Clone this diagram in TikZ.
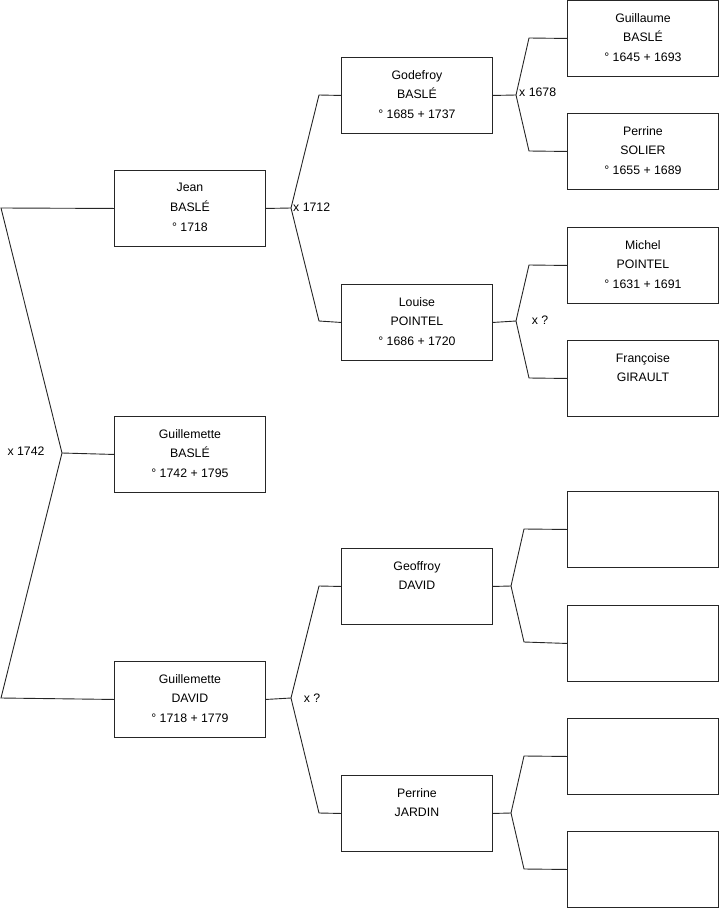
\documentclass[tikz,border=0pt]{standalone}
\usepackage{fontspec}
\setmainfont{Liberation Sans}
\begin{document}
\begin{tikzpicture}[x=1pt,y=-1pt,
  box/.style={draw=black!85, line width=0.9pt, minimum width=151pt, minimum height=76pt, inner sep=0pt, anchor=north west},
  txt/.style={anchor=north, align=center, font=\fontsize{12.3}{19.8}\selectfont, inner sep=0pt},
  ln/.style={draw=black!85, line width=0.9pt},
  lab/.style={font=\fontsize{12.3}{14}\selectfont, inner sep=0pt}]
\useasboundingbox (0,0) rectangle (719,908);
% generation 1
\node[box] (jean) at (114,170) {};
\node[box] (gbasle) at (114,416) {};
\node[box] (gdavid) at (114,661) {};
% generation 2
\node[box] (godefroy) at (341,57) {};
\node[box] (louise) at (341,284) {};
\node[box] (geoffroy) at (341,548) {};
\node[box] (pjardin) at (341,775) {};
% generation 3
\node[box] (guillaume) at (567,0) {};
\node[box] (psolier) at (567,113) {};
\node[box] (michel) at (567,227) {};
\node[box] (francoise) at (567,340) {};
\node[box] (e1) at (567,491) {};
\node[box] (e2) at (567,605) {};
\node[box] (e3) at (567,718) {};
\node[box] (e4) at (567,831) {};
% texts
\node[txt] at ([yshift=-13pt]jean.north) {Jean\\BASLÉ\\° 1718};
\node[txt] at ([yshift=-13pt]gbasle.north) {Guillemette\\BASLÉ\\° 1742 + 1795};
\node[txt] at ([yshift=-13pt]gdavid.north) {Guillemette\\DAVID\\° 1718 + 1779};
\node[txt] at ([yshift=-13pt]godefroy.north) {Godefroy\\BASLÉ\\° 1685 + 1737};
\node[txt] at ([yshift=-13pt]louise.north) {Louise\\POINTEL\\° 1686 + 1720};
\node[txt] at ([yshift=-13pt]geoffroy.north) {Geoffroy\\DAVID};
\node[txt] at ([yshift=-13pt]pjardin.north) {Perrine\\JARDIN};
\node[txt] at ([yshift=-13pt]guillaume.north) {Guillaume\\BASLÉ\\° 1645 + 1693};
\node[txt] at ([yshift=-13pt]psolier.north) {Perrine\\SOLIER\\° 1655 + 1689};
\node[txt] at ([yshift=-13pt]michel.north) {Michel\\POINTEL\\° 1631 + 1691};
\node[txt] at ([yshift=-13pt]francoise.north) {Françoise\\GIRAULT};
% junction coordinates
\coordinate (a0) at (1,208);
\coordinate (j0) at (62,453);
\coordinate (b0) at (1,698);
\coordinate (j1) at (291,208);
\coordinate (a1) at (319,95);
\coordinate (b1) at (319,321);
\coordinate (j2) at (516,95);
\coordinate (a2) at (529,38);
\coordinate (b2) at (529,151);
\coordinate (j3) at (516,321);
\coordinate (a3) at (529,265);
\coordinate (b3) at (529,378);
\coordinate (j4) at (291,698);
\coordinate (a4) at (319,586);
\coordinate (b4) at (319,813);
\coordinate (j5) at (511,586);
\coordinate (a5) at (524,529);
\coordinate (b5) at (524,642);
\coordinate (j6) at (511,813);
\coordinate (a6) at (524,756);
\coordinate (b6) at (524,869);
% connectors
\draw[ln] (jean.west) -- (a0) -- (j0) -- (b0) -- (gdavid.west);
\draw[ln] (j0) -- (gbasle.west);
\draw[ln] (godefroy.west) -- (a1) -- (j1) -- (b1) -- (louise.west);
\draw[ln] (j1) -- (jean.east);
\draw[ln] (guillaume.west) -- (a2) -- (j2) -- (b2) -- (psolier.west);
\draw[ln] (j2) -- (godefroy.east);
\draw[ln] (michel.west) -- (a3) -- (j3) -- (b3) -- (francoise.west);
\draw[ln] (j3) -- (louise.east);
\draw[ln] (geoffroy.west) -- (a4) -- (j4) -- (b4) -- (pjardin.west);
\draw[ln] (j4) -- (gdavid.east);
\draw[ln] (e1.west) -- (a5) -- (j5) -- (b5) -- (e2.west);
\draw[ln] (j5) -- (geoffroy.east);
\draw[ln] (e3.west) -- (a6) -- (j6) -- (b6) -- (e4.west);
\draw[ln] (j6) -- (pjardin.east);
% marriage labels
\node[lab] (m0) at (26,451) {x 1742};
\node[lab, anchor=west] (m1) at (293,207) {x 1712};
\node[lab, anchor=west] (m2) at (519,92) {x 1678};
\node[lab] (m3) at (540,320) {x ?};
\node[lab] (m4) at (312,698) {x ?};
\end{tikzpicture}
\end{document}
